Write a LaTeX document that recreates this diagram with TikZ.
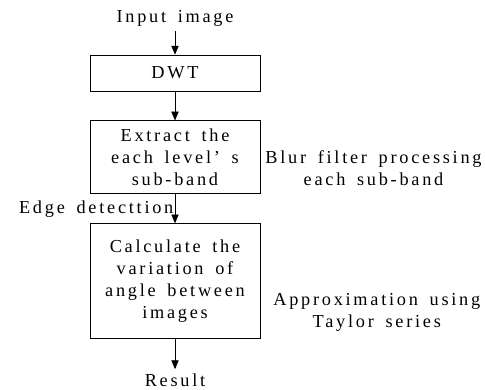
\documentclass[tikz,border=0pt]{standalone}
\usepackage{fontspec}
\setmainfont{Liberation Serif}[LetterSpace=15, WordSpace=1.6]
\usetikzlibrary{arrows,positioning}
\tikzset{arrows={-triangle 45}}

\begin{document}
\begin{tikzpicture}[node distance=0.725cm, font=\fontsize{13}{15.6}\selectfont,
    block/.style={draw, line width=0.6pt, minimum width=4.25cm, align=center}]

  \useasboundingbox (0,0) rectangle (12.125,-9.725);

  \node [block, minimum height=0.9cm] (dwt) at (4.375,-1.825) {DWT};
  \node (input) [above=0.58cm of dwt] {Input image};

  \node [block, minimum height=1.825cm] (extract) [below=of dwt]
        {Extract the\\each level’ s\\sub-band};
  \node [block, minimum height=2.875cm] (angle) [below=of extract]
        {Calculate the\\variation of\\angle between\\images};
  \node (result) [below=0.75cm of angle] {Result};

  % side notes
  \node [align=center, right=0pt of extract, yshift=-0.28cm] (blur)
        {Blur filter processing\\each sub-band};
  \node [align=center, right=0.2cm of angle, yshift=-0.79cm] (taylor)
        {Approximation using\\Taylor series};

  \path (input) edge (dwt)
        (dwt) edge (extract)
        (extract) edge node [left, inner sep=1pt] {Edge detecttion} (angle)
        (angle) edge (result);
\end{tikzpicture}
\end{document}
